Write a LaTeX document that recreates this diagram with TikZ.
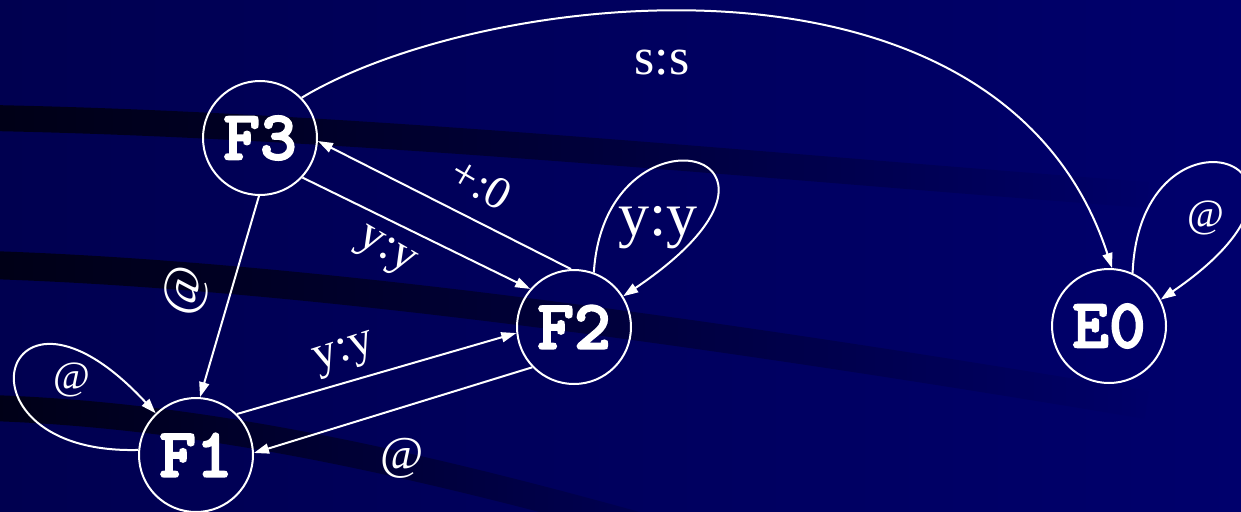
\documentclass[tikz,border=0pt]{standalone}
\usepackage{fontspec}
\setmainfont{Liberation Serif}
\newfontfamily\statefont{lmmonolt10-bold.otf}[FakeBold=2.5]
\usetikzlibrary{arrows.meta,fadings}
\definecolor{bgA}{RGB}{0,0,80}
\definecolor{bgB}{RGB}{0,0,108}
\definecolor{stripecol}{RGB}{0,0,22}
\tikzfading[name=stripefade, left color=transparent!0, middle color=transparent!25, right color=transparent!100]
\tikzset{
  fsmstate/.style={circle, draw=white, line width=2pt, minimum size=114pt, inner sep=0pt, text=white, font=\statefont\fontsize{70}{74}\selectfont},
  trans/.style={draw=white, line width=2pt, -{Triangle[length=15pt,width=10pt]}},
  lbl/.style={text=white, inner sep=0pt},
  stripe/.style={line width=26pt, draw=stripecol, path fading=stripefade}
}
\begin{document}
\begin{tikzpicture}[x=1pt,y=-1pt]
\useasboundingbox (0,0) rectangle (1241,511);
\fill[left color=bgA, right color=bgB] (0,0) rectangle (1241,511);
% background stripes
\draw[stripe] (-10,118) .. controls (350,125) and (750,165) .. (1150,195);
\draw[stripe, line width=28pt] (-10,265) .. controls (300,275) and (700,330) .. (1150,405);
\draw[stripe] (-10,408) .. controls (200,415) and (420,460) .. (760,560);
% states
\node[fsmstate] (F3) at (260,138) {F3};
\node[fsmstate] (F2) at (574,327) {F2};
\node[fsmstate] (F1) at (196,455) {F1};
\node[fsmstate] (E0) at (1109,326) {E0};
% transitions
\draw[trans] (F3.44) .. controls (480,-10) and (1000,-75) .. (E0.87);
\draw[trans] (F2.93) -- (F3.-3);
\draw[trans] (F3.-43) -- (F2.139);
\draw[trans] (F3.-91) -- (F1.86);
\draw[trans] (F1.45) -- (F2.186);
\draw[trans] (F2.-136) -- (F1.2);
\draw[trans] (F2.70) .. controls (605,95) and (840,150) .. (F2.32);
\draw[trans] (F1.175) .. controls (-55,455) and (0,245) .. (F1.134);
\draw[trans] (E0.66) .. controls (1140,90) and (1365,160) .. (E0.27);
% labels
\node[lbl, font=\fontsize{52}{60}\selectfont] (Lss) at (662,63) {s:s};
\node[lbl, font=\fontsize{46}{52}\selectfont, rotate=-30] (Lp0) at (481,184) {+:0};
\node[lbl, font=\fontsize{48}{56}\selectfont, rotate=-30] (Lyy1) at (385,253) {y:y};
\node[lbl, font=\fontsize{52}{60}\selectfont, rotate=74] (La1) at (186,291) {@};
\node[lbl, font=\fontsize{48}{56}\selectfont, rotate=18] (Lyy2) at (345,355) {y:y};
\node[lbl, font=\fontsize{47}{54}\selectfont] (La2) at (402,458) {@};
\node[lbl, font=\fontsize{62}{70}\selectfont] (Lyy3) at (658,228) {y:y};
\node[lbl, font=\fontsize{40}{48}\selectfont] (La3) at (72,380) {@};
\node[lbl, font=\fontsize{40}{48}\selectfont] (La4) at (1206,218) {@};
\end{tikzpicture}
\end{document}
